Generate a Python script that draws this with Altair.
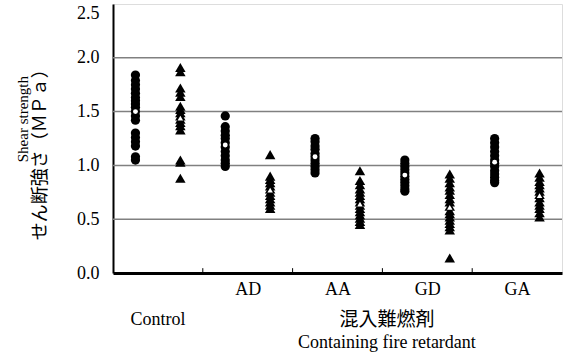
import altair as alt
import pandas as pd

# ---- data ----
groups = ["Control", "AD", "AA", "GD", "GA"]

control_circle = [1.84, 1.79, 1.75, 1.71, 1.67, 1.63, 1.60, 1.57, 1.54, 1.50, 1.46, 1.42, 1.30, 1.26, 1.22, 1.18, 1.08, 1.05]
control_tri = [1.91, 1.87, 1.72, 1.68, 1.64, 1.55, 1.52, 1.49, 1.46, 1.43, 1.40, 1.37, 1.33, 1.05, 1.03, 0.88]
ad_circle = [1.46, 1.36, 1.32, 1.28, 1.25, 1.21, 1.17, 1.13, 1.09, 1.05, 1.02, 0.99]
ad_tri = [1.10, 0.90, 0.87, 0.84, 0.81, 0.78, 0.75, 0.72, 0.69, 0.66, 0.63, 0.60]
aa_circle = [1.25, 1.22, 1.18, 1.15, 1.11, 1.08, 1.05, 1.02, 0.99, 0.96, 0.93]
aa_tri = [0.95, 0.86, 0.82, 0.78, 0.75, 0.72, 0.69, 0.66, 0.63, 0.60, 0.57, 0.54, 0.51, 0.48, 0.45]
gd_circle = [1.05, 1.02, 0.99, 0.96, 0.93, 0.90, 0.87, 0.84, 0.81, 0.78, 0.76]
gd_tri = [0.92, 0.88, 0.84, 0.80, 0.77, 0.73, 0.69, 0.66, 0.62, 0.58, 0.55, 0.52, 0.49, 0.46, 0.43, 0.40, 0.14]
ga_circle = [1.25, 1.21, 1.17, 1.13, 1.09, 1.05, 1.02, 0.99, 0.95, 0.92, 0.89, 0.86, 0.84]
ga_tri = [0.93, 0.89, 0.85, 0.82, 0.79, 0.76, 0.73, 0.70, 0.66, 0.63, 0.60, 0.56, 0.52]

mean_circle = [1.50, 1.19, 1.08, 0.91, 1.03]
mean_tri = [1.44, 0.77, 0.64, 0.61, 0.72]

y_ticks = [0.0, 0.5, 1.0, 1.5, 2.0, 2.5]
grid_vals = [0.5, 1.0, 1.5, 2.0]
group_bounds = [2, 4, 6, 8]

circle_cols = [control_circle, ad_circle, aa_circle, gd_circle, ga_circle]
tri_cols = [control_tri, ad_tri, aa_tri, gd_tri, ga_tri]

rows = []
for gi, g in enumerate(groups):
    for v in circle_cols[gi]:
        rows.append({"group": g, "pos": 2 * gi + 0.5, "value": v, "kind": "circle"})
    for v in tri_cols[gi]:
        rows.append({"group": g, "pos": 2 * gi + 1.5, "value": v, "kind": "tri"})
df = pd.DataFrame(rows)

mean_rows = []
for gi, g in enumerate(groups):
    mean_rows.append({"group": g, "pos": 2 * gi + 0.5, "value": mean_circle[gi], "kind": "circle"})
    mean_rows.append({"group": g, "pos": 2 * gi + 1.5, "value": mean_tri[gi], "kind": "tri"})
mdf = pd.DataFrame(mean_rows)

SERIF = "Liberation Serif"
CJK = "Noto Sans CJK JP"

label_expr = " : ".join(
    f"datum.value == {2 * i + 1} ? '{g}'" for i, g in enumerate(groups) if i > 0
) + " : ''"

xscale = alt.Scale(domain=[0, 10], nice=False, zero=False)
yscale = alt.Scale(domain=[0, 2.5], nice=False)

xaxis = alt.Axis(values=[3, 5, 7, 9], labelExpr=label_expr, ticks=False, grid=False,
                 domainColor="black", domainWidth=3, labelFont=SERIF, labelFontSize=18,
                 labelColor="black", labelPadding=7, title=None)
yaxis = alt.Axis(values=y_ticks, format=".1f", ticks=False, grid=False,
                 domainColor="black", domainWidth=2, labelFont=SERIF, labelFontSize=18,
                 labelColor="black", labelPadding=14, title=None,
                 labelBaseline={"condition": {"test": "datum.value == 2.5", "value": "top"},
                                "value": "middle"})

grid = alt.Chart(pd.DataFrame({"g": grid_vals})).mark_rule(color="#808080", strokeWidth=1.5).encode(
    y=alt.Y("g:Q", scale=yscale, axis=yaxis)
)

ticks = alt.Chart(pd.DataFrame({"b": group_bounds})).mark_rule(color="black", strokeWidth=1).encode(
    x=alt.X("b:Q", scale=xscale, axis=xaxis),
    y=alt.datum(0, scale=yscale),
    y2=alt.datum(0.045),
)

circles = alt.Chart(df[df.kind == "circle"]).mark_point(
    shape="circle", filled=True, color="black", size=85, opacity=1
).encode(
    x=alt.X("pos:Q", scale=xscale, axis=xaxis),
    y=alt.Y("value:Q", scale=yscale, axis=yaxis),
)
tris = alt.Chart(df[df.kind == "tri"]).mark_point(
    shape="triangle-up", filled=True, color="black", size=110, opacity=1
).encode(
    x=alt.X("pos:Q", scale=xscale, axis=xaxis),
    y=alt.Y("value:Q", scale=yscale, axis=yaxis),
)
mcirc = alt.Chart(mdf[mdf.kind == "circle"]).mark_point(
    shape="circle", filled=True, color="white", size=24, opacity=1
).encode(x=alt.X("pos:Q", scale=xscale), y=alt.Y("value:Q", scale=yscale))
mtri = alt.Chart(mdf[mdf.kind == "tri"]).mark_point(
    shape="triangle-up", filled=True, color="white", size=30, opacity=1
).encode(x=alt.X("pos:Q", scale=xscale), y=alt.Y("value:Q", scale=yscale))


def label(text, x, y, font, size, angle=0):
    return alt.Chart(alt.Data(values=[{}])).mark_text(
        text=text, font=font, fontSize=size, color="black", angle=angle,
        align="center", baseline="middle"
    ).encode(x=alt.datum(x, scale=xscale), y=alt.datum(y, scale=yscale))


t_control = label("Control", 1.0, -0.437, SERIF, 18)
t_cn = label("混入難燃剤", 6.1, -0.437, CJK, 19)
t_en = label("Containing fire retardant", 6.1, -0.65, SERIF, 18)
t_y1 = label("Shear strength", -2.0, 1.43, SERIF, 15, angle=270)
t_y2 = label("せん断強さ（ＭＰａ）", -1.6, 1.14, CJK, 18, angle=270)

chart = alt.layer(
    grid, ticks, circles, tris, mcirc, mtri, t_control, t_cn, t_en, t_y1, t_y2
).properties(
    width=449, height=269,
    autosize=alt.AutoSizeParams(type="none"),
    padding={"left": 113, "top": 4, "right": 1, "bottom": 87},
).configure_view(
    stroke="black", strokeWidth=2
).configure(background="white")

chart.save("out.html", embed_options={"renderer": "svg", "actions": False})
